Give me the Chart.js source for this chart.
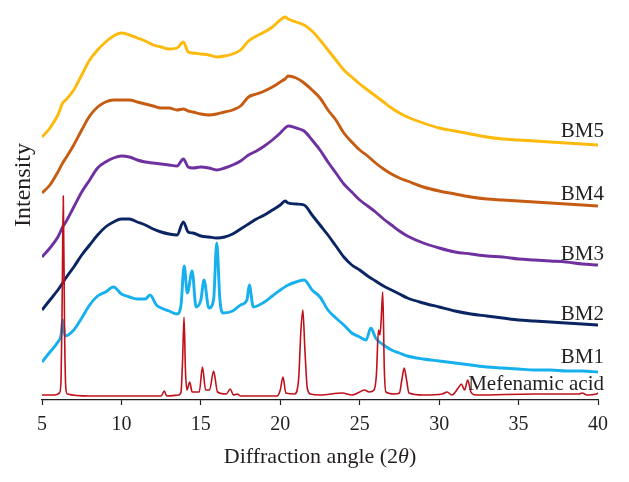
<!DOCTYPE html>
<html>
<head>
<meta charset="utf-8">
<script src="https://cdn.jsdelivr.net/npm/chart.js@4.4.0/dist/chart.umd.min.js"></script>
<style>
html,body{margin:0;padding:0;background:#fff;}
#wrap{width:629px;height:482px;position:relative;}
</style>
</head>
<body>
<div id="wrap"><canvas id="c"></canvas></div>
<script>
// Diffraction angles (2θ) shared by the ball-milled samples BM2–BM5
const bmAngles = [5,5.5,6,6.3,6.5,7,7.5,8,8.5,9,9.5,10,10.5,11,11.5,12,12.5,13,13.5,13.9,14.2,14.5,15,15.5,16,16.5,17,17.5,18,18.5,19,19.5,20,20.3,20.5,21,21.5,22,22.5,23,23.5,24,24.5,25,25.5,26,26.5,27,27.5,28,29,30,31,32,33,34,35,36,37,38,39,40];
// Intensities (arbitrary units, stacked offsets as in the figure)
const bm5 = [263,272,285,297,300,310,325,340,350,358,364,367,365,362,359,355,353,351,352,358,348,347,346,345,343,344,346,350,359,364,368,373,380,383,381,378,375,369,360,350,340,330,323,316,310,304,298,292,287,283,277,272,269,266,263,261,260,259,258,257,256,255];
const bm4 = [207,215,228,237,242,255,270,284,293,298,300,300,300,298,296,294,292,292,290,291,289,288,286,285,286,288,290,294,303,306,309,313,318,321,324,322,317,310,302,290,280,267,258,250,244,237,231,226,222,219,213,209,206,203,201,200,199,198,197,196,195,194];
const bm3 = [143,152,163,173,178,193,208,220,232,238,242,244,243,240,238,237,236,235,234,241,233,232,233,232,230,232,235,239,245,249,254,260,267,272,274,272,269,260,250,238,227,216,208,200,194,188,181,175,169,164,157,152,148,146,144,143,141,140,139,138,136,135];
const bm2 = [90,100,110,117,122,133,145,155,165,173,178,181,181,178,175,171,168,166,165,178,168,167,164,163,162,163,166,171,176,181,185,190,195,199,197,196,195,185,175,165,154,143,135,130,124,119,114,110,106,102,97,93,89,86,84,82,80,79,78,77,76,75];
// BM1 (partly crystalline) has its own angle grid
const bm1Angles = [5,5.5,6,6.2,6.3,6.45,7,7.5,8,8.5,9,9.5,10,10.5,11,11.5,11.8,12.2,12.5,13,13.5,13.75,13.95,14.15,14.45,14.7,15,15.2,15.5,15.8,16,16.2,16.4,17,17.5,17.9,18.05,18.3,19,19.5,20,20.5,21,21.5,22,22.5,23,23.5,24,24.5,25,25.4,25.7,26,26.5,27,27.5,28,29,30,31,32,33,34,35,36,37,38,39,40];
const bm1 = [38,48,58,65,80,64,70,82,95,104,108,113,106,103,101,101,105,95,92,89,86,95,134,107,129,93,100,120,92,100,157,100,87,89,95,100,115,93,98,104,110,115,118,120,110,103,90,82,75,67,63,60,72,62,55,50,47,44,41,39,37,35,33,32,31,30,30,29,29,28];
// Mefenamic acid (crystalline reference)
const mefAngles = [5,5.8,6.1,6.2,6.27,6.34,6.42,6.5,6.6,8,10,12.5,12.7,12.85,13.6,13.75,13.85,13.94,14.03,14.12,14.3,14.45,14.9,15.1,15.3,15.55,15.8,16.05,16.6,16.85,17.05,17.3,17.5,19.8,20,20.17,20.35,20.9,21.15,21.3,21.42,21.55,21.7,21.9,22.5,23.9,24.5,25,25.3,25.6,25.9,26.05,26.18,26.27,26.35,26.45,26.55,26.65,27.2,27.5,27.65,27.8,27.95,28.1,29,30.2,30.5,30.8,31.2,31.4,31.6,31.8,32,32.3,36,38.8,39,39.3,39.9,40];
const mef = [5,5,7,20,100,204,70,12,6,4,4,4,9,4,5,8,40,83,30,10,18,8,8,33,10,10,29,8,6,11,5,6,4,4,10,23,7,6,20,70,90,50,12,6,5,7,5,8,10,8,10,25,70,65,80,108,30,8,6,7,20,32,20,7,5,6,8,5,12,16,10,20,8,5,6,6,7,5,6,7];
const xTicks = [5,10,15,20,25,30,35,40];

const seriesNames = ['Mefenamic acid','BM1','BM2','BM3','BM4','BM5'];
const seriesColors = ['#C0101A','#16B0EE','#0B2462','#7031A0','#C65B12','#FDBA0C'];
const seriesX = [mefAngles,bm1Angles,bmAngles,bmAngles,bmAngles,bmAngles];
const seriesY = [mef,bm1,bm2,bm3,bm4,bm5];
// label baseline (in intensity units) for the curve names
const labelY = [10,37,80,140,200,263];

const SERIF = "'Liberation Serif','DejaVu Serif',serif";

const datasets = seriesNames.map((n,i)=>({
  label:n,
  data: seriesX[i].map((x,j)=>({x:x,y:seriesY[i][j]})),
  borderColor: seriesColors[i],
  backgroundColor: seriesColors[i],
  borderWidth: i===0 ? 1.6 : 2.9,
  pointRadius: 0,
  cubicInterpolationMode: 'monotone',
  fill: false
}));

const annot = {
  id:'annot',
  afterDraw(chart){
    const ctx = chart.ctx, xs = chart.scales.x, ys = chart.scales.y;
    ctx.save();
    ctx.fillStyle = '#231f20';
    // curve names
    ctx.font = "21px " + SERIF;
    ctx.textBaseline = 'alphabetic';
    seriesNames.forEach((n,i)=>{
      ctx.textAlign = 'right';
      ctx.fillText(n, xs.getPixelForValue(40) + 6, ys.getPixelForValue(labelY[i]));
    });
    // x title with italic theta
    const a = "Diffraction angle (2", th = "\u03B8", b = ")";
    ctx.font = "22px " + SERIF;
    const wa = ctx.measureText(a).width, wb = ctx.measureText(b).width;
    ctx.font = "italic 22px " + SERIF;
    const wt = ctx.measureText(th).width;
    const cx = (xs.left + xs.right)/2;
    let x0 = cx - (wa+wt+wb)/2;
    const by = 463;
    ctx.textAlign = 'left';
    ctx.font = "22px " + SERIF; ctx.fillText(a, x0, by);
    ctx.font = "italic 22px " + SERIF; ctx.fillText(th, x0+wa, by);
    ctx.font = "22px " + SERIF; ctx.fillText(b, x0+wa+wt, by);
    // y title
    ctx.translate(30, 185);
    ctx.rotate(-Math.PI/2);
    ctx.textAlign = 'center';
    ctx.font = "24px " + SERIF;
    ctx.fillText('Intensity', 0, 0);
    ctx.restore();
  }
};

new Chart(document.getElementById('c'), {
  type:'line',
  data:{datasets:datasets},
  options:{
    responsive:true,
    maintainAspectRatio:false,
    animation:false,
    layout:{padding:{left:42,right:31,top:0,bottom:0}},
    plugins:{legend:{display:false},tooltip:{enabled:false}},
    scales:{
      x:{
        type:'linear', position:'bottom', min:5, max:40,
        afterBuildTicks(s){ s.ticks = xTicks.map(v=>({value:v})); },
        afterFit(s){ s.height = 82; },
        ticks:{color:'#231f20', font:{family:SERIF,size:20}, padding:8, maxRotation:0},
        grid:{display:true, drawOnChartArea:false, drawTicks:true, tickLength:5, color:'#231f20', tickWidth:1.2},
        border:{display:true, color:'#231f20', width:1.2}
      },
      y:{ display:false, min:0, max:400 }
    }
  },
  plugins:[annot]
});
</script>
</body>
</html>
